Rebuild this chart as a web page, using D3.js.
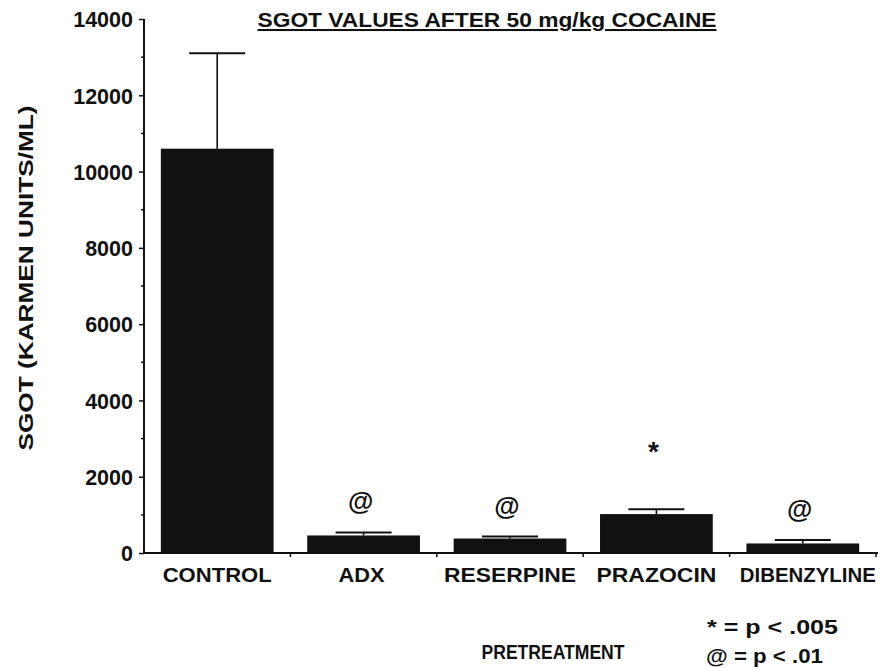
<!DOCTYPE html>
<html>
<head>
<meta charset="utf-8">
<script src="https://cdn.jsdelivr.net/npm/d3@7"></script>
<style>
  html, body { margin: 0; padding: 0; background: #fff; }
  svg text { font-family: "Liberation Sans", Arial, Helvetica, sans-serif; font-weight: bold; fill: #111; }
</style>
</head>
<body>
<svg id="chart" width="885" height="668"></svg>
<script>
// Pretreatment groups and SGOT (Karmen units/ml) after 50 mg/kg cocaine
const categories = ["CONTROL", "ADX", "RESERPINE", "PRAZOCIN", "DIBENZYLINE"];
const meanValues = [10600, 460, 380, 1020, 250];
const errorValues = [2500, 80, 50, 130, 90];
const significance = ["", "@", "@", "*", "@"];
const yTickValues = [0, 2000, 4000, 6000, 8000, 10000, 12000, 14000];
const legendLines = ["* = p < .005", "@ = p < .01"];

const svg = d3.select("#chart");
const margin = { left: 144, right: 9, top: 19, bottom: 115 };
const W = 885, H = 668;

const x = d3.scaleBand()
  .domain(categories)
  .range([margin.left, W - margin.right])
  .paddingInner(0.23)
  .paddingOuter(0.115);

const y = d3.scaleLinear()
  .domain([0, 14000])
  .range([H - margin.bottom, margin.top]);

const ink = "#111";
const fontStack = "'Liberation Sans', Arial, sans-serif";

// Bars
svg.append("g").selectAll("rect")
  .data(categories)
  .join("rect")
  .attr("x", d => x(d))
  .attr("width", x.bandwidth())
  .attr("y", (d, i) => y(meanValues[i]))
  .attr("height", (d, i) => y(0) - y(meanValues[i]))
  .attr("fill", ink);

// Error bars (upper half only)
const eb = svg.append("g").attr("stroke", ink).attr("stroke-width", 1.6);
categories.forEach((c, i) => {
  const cx = x(c) + x.bandwidth() / 2;
  const top = y(meanValues[i] + errorValues[i]);
  eb.append("line").attr("x1", cx).attr("x2", cx)
    .attr("y1", y(meanValues[i])).attr("y2", top);
  eb.append("line").attr("x1", cx - 28).attr("x2", cx + 28)
    .attr("y1", top).attr("y2", top).attr("stroke-width", 2);
});

// Significance markers above the error bars
svg.append("g").selectAll("text")
  .data(categories)
  .join("text")
  .attr("x", d => x(d) + x.bandwidth() / 2 - 3)
  .attr("y", (d, i) => y(meanValues[i] + errorValues[i]) - (significance[i] === "*" ? 48 : 22))
  .attr("text-anchor", "middle")
  .attr("font-size", (d, i) => significance[i] === "*" ? 28 : 26)
  .text((d, i) => significance[i]);

// Y axis
const yAxis = d3.axisLeft(y)
  .tickValues(yTickValues)
  .tickSize(5)
  .tickPadding(6)
  .tickFormat(d3.format("d"));
const gy = svg.append("g")
  .attr("transform", `translate(${margin.left},0)`)
  .call(yAxis);
gy.select(".domain").attr("stroke", ink).attr("stroke-width", 2).attr("d", `M0,${y(14000)}V${y(0)}`);
gy.selectAll(".tick line").attr("stroke", ink).attr("stroke-width", 1.5);
gy.selectAll(".tick text")
  .attr("font-size", 21.5)
  .attr("dy", "0.36em")
  .style("font-family", fontStack)
  .style("font-weight", "bold")
  .attr("fill", ink);

// minor ticks
const minor = d3.range(1000, 14000, 2000);
svg.append("g").selectAll("line")
  .data(minor)
  .join("line")
  .attr("x1", margin.left - 3).attr("x2", margin.left)
  .attr("y1", d => y(d)).attr("y2", d => y(d))
  .attr("stroke", ink).attr("stroke-width", 1.5);

// X axis
const labelWidth = { CONTROL: 109, ADX: 46, RESERPINE: 132, PRAZOCIN: 120, DIBENZYLINE: 136 };
const labelShift = { CONTROL: 0, ADX: -2, RESERPINE: 0, PRAZOCIN: 0, DIBENZYLINE: 5 };
const xAxis = d3.axisBottom(x).tickSize(0).tickPadding(14);
const gx = svg.append("g")
  .attr("transform", `translate(0,${y(0)})`)
  .call(xAxis);
gx.select(".domain").attr("stroke", ink).attr("stroke-width", 2)
  .attr("d", `M${margin.left},0H${W - margin.right + 2}`);
gx.selectAll(".tick text")
  .attr("font-size", 20.5)
  .attr("dy", "0.71em")
  .attr("x", d => labelShift[d])
  .attr("textLength", d => labelWidth[d])
  .attr("lengthAdjust", "spacingAndGlyphs")
  .style("font-family", fontStack)
  .style("font-weight", "bold")
  .attr("fill", ink);

// x ticks at category boundaries
const step = x.step();
const boundary = i => margin.left + x.paddingOuter() * step - x.paddingInner() * step / 2 + i * step;
svg.append("g").selectAll("line")
  .data(d3.range(1, categories.length + 1))
  .join("line")
  .attr("x1", boundary).attr("x2", boundary)
  .attr("y1", y(0)).attr("y2", y(0) + 4)
  .attr("stroke", ink).attr("stroke-width", 1.5);

// Title
svg.append("text")
  .attr("x", 487).attr("y", 27)
  .attr("text-anchor", "middle")
  .attr("font-size", 20.5)
  .attr("textLength", 459)
  .attr("lengthAdjust", "spacingAndGlyphs")
  .attr("text-decoration", "underline")
  .text("SGOT VALUES AFTER 50 mg/kg COCAINE");

// Y axis title
svg.append("text")
  .attr("transform", "translate(33,278) rotate(-90)")
  .attr("text-anchor", "middle")
  .attr("font-size", 21)
  .attr("textLength", 345)
  .attr("lengthAdjust", "spacingAndGlyphs")
  .text("SGOT  (KARMEN UNITS/ML)");

// X axis title
svg.append("text")
  .attr("x", 553).attr("y", 659)
  .attr("text-anchor", "middle")
  .attr("font-size", 21)
  .attr("textLength", 143)
  .attr("lengthAdjust", "spacingAndGlyphs")
  .text("PRETREATMENT");

// Significance legend
const legendWidths = [131, 117];
svg.append("g").selectAll("text")
  .data(legendLines)
  .join("text")
  .attr("x", (d, i) => i === 0 ? 707 : 706)
  .attr("y", (d, i) => 634 + i * 29)
  .attr("font-size", 21)
  .attr("textLength", (d, i) => legendWidths[i])
  .attr("lengthAdjust", "spacingAndGlyphs")
  .text(d => d);
</script>
</body>
</html>
